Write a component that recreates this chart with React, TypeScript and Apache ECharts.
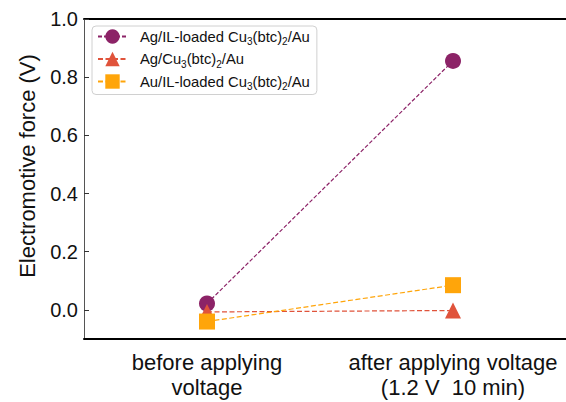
import React, { useEffect, useRef } from "react";
import * as echarts from "echarts";

const categories = ["before applying\nvoltage", "after applying voltage\n(1.2 V  10 min)"];
const agIL = [0.022, 0.856];
const agCu = [-0.007, -0.002];
const auIL = [-0.04, 0.085];
const seriesNames = [
  "Ag/IL-loaded Cu3(btc)2/Au",
  "Ag/Cu3(btc)2/Au",
  "Au/IL-loaded Cu3(btc)2/Au",
];
const legendRich = [
  "{f|Ag/IL-loaded Cu}{sub|3}{n|(btc)}{sub|2}{n|/Au}",
  "{f|Ag/Cu}{sub|3}{n|(btc)}{sub|2}{n|/Au}",
  "{f|Au/IL-loaded Cu}{sub|3}{n|(btc)}{sub|2}{n|/Au}",
];
const colors = ["#8c2367", "#e0533b", "#ffa50a"];
const symbols = ["circle", "triangle", "rect"];
const dashes = [[4, 2], [5, 2.5], [5, 2.5]];

const FONT = "'Liberation Sans', Arial, sans-serif";

export default function App() {
  const ref = useRef<HTMLDivElement>(null);
  useEffect(() => {
    if (!ref.current) return;
    const chart = echarts.init(ref.current, undefined, { renderer: "svg" });
    const values = [agIL, agCu, auIL];
    chart.setOption({
      animation: false,
      textStyle: { fontFamily: FONT },
      grid: { left: 84, top: 19, bottom: 63, width: 492, outerBoundsMode: "none", containLabel: false },
      legend: {
        left: 92,
        top: 26,
        orient: "vertical",
        selectedMode: false,
        padding: [3, 7, 3, 5],
        itemGap: 5,
        itemWidth: 29,
        itemHeight: 18,
        backgroundColor: "#fff",
        borderColor: "#d0d0d0",
        borderWidth: 1,
        borderRadius: 4,
        data: seriesNames,
        formatter: (name: string) => legendRich[seriesNames.indexOf(name)],
        textStyle: {
          fontFamily: FONT,
          color: "#111",
          rich: {
            f: { fontSize: 14.8, lineHeight: 20, padding: [0, 0, 0, 8], fontFamily: FONT, color: "#111" },
            n: { fontSize: 14.8, lineHeight: 20, fontFamily: FONT, color: "#111" },
            sub: { fontSize: 10, lineHeight: 10, verticalAlign: "bottom", fontFamily: FONT, color: "#111" },
          },
        },
      },
      xAxis: [
        {
          type: "category",
          data: categories,
          position: "bottom",
          boundaryGap: true,
          axisLine: { onZero: false, lineStyle: { color: "#000", width: 2 } },
          axisTick: { inside: true, length: 5, alignWithLabel: true, lineStyle: { color: "#000", width: 1 } },
          axisLabel: { interval: 0, fontSize: 22, lineHeight: 25, color: "#111", margin: 11, fontFamily: FONT },
        },
        {
          type: "category",
          data: categories,
          position: "top",
          boundaryGap: true,
          axisLine: { onZero: false, lineStyle: { color: "#000", width: 2 } },
          axisTick: { inside: true, length: 5, alignWithLabel: true, lineStyle: { color: "#000", width: 1 } },
          axisLabel: { show: false },
        },
      ],
      yAxis: {
        type: "value",
        min: -0.1,
        max: 1.0,
        splitNumber: 5,
        name: "Electromotive force (V)",
        nameLocation: "middle",
        nameRotate: 90,
        nameGap: 46,
        nameTextStyle: { fontSize: 22, color: "#111", fontFamily: FONT, padding: [0, 0, 0, 26] },
        splitLine: { show: false },
        axisLine: { show: true, lineStyle: { color: "#555", width: 1 } },
        axisTick: { show: true, inside: true, length: 5, lineStyle: { color: "#333" } },
        axisLabel: {
          fontSize: 20,
          color: "#111",
          margin: 6,
          showMinLabel: false,
          fontFamily: FONT,
          formatter: (v: number) => (Math.abs(v + 0.1) < 1e-9 ? "" : v.toFixed(1)),
        },
      },
      series: seriesNames.map((name, i) => ({
        name,
        type: "line",
        data: values[i],
        symbol: symbols[i],
        symbolSize: 16,
        itemStyle: { color: colors[i] },
        lineStyle: { color: colors[i], width: 1.2, type: dashes[i] },
        z: 2 + i,
      })),
    });
    return () => chart.dispose();
  }, []);
  return <div ref={ref} style={{ width: 566, height: 402, position: "absolute", left: 0, top: 0 }} />;
}
